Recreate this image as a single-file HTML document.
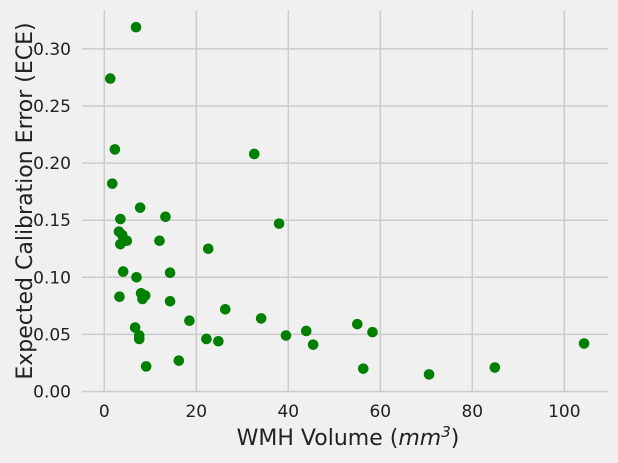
<!DOCTYPE html>
<html><head><meta charset="utf-8"><style>
body{margin:0;background:#f0f0f0}
svg text{font-family:"DejaVu Sans","Liberation Sans",sans-serif;fill:#222}
</style></head><body>
<svg id="chart" width="618" height="458">
<rect width="618" height="458" fill="#f0f0f0"/>
<g id="grid"></g>
<g id="ticks"></g>
<g id="pts"></g>
<text x="348" y="445" text-anchor="middle" font-size="22">WMH Volume (<tspan font-style="italic">mm</tspan><tspan font-size="15" dy="-8" font-style="italic">3</tspan><tspan dy="8">)</tspan></text>
<text transform="translate(32,201) rotate(-90)" text-anchor="middle" font-size="22">Expected Calibration Error (ECE)</text>
</svg>
<script>
const xVals=[1.74,7.8,3.5,13.3,38.0,3.2,3.9,4.9,3.5,12.0,22.6,4.1,7.0,14.3,3.3,8.0,8.9,8.3,14.3,26.3,34.1,18.5,6.7,7.6,7.6,22.2,24.8,39.5,16.2,9.1,6.9,1.3,2.3,32.6,43.9,45.4,55.0,56.3,58.3,70.6,84.9,104.3];
const yVals=[0.182,0.161,0.151,0.153,0.147,0.140,0.137,0.132,0.129,0.132,0.125,0.105,0.100,0.104,0.083,0.086,0.084,0.081,0.079,0.072,0.064,0.062,0.056,0.049,0.046,0.046,0.044,0.049,0.027,0.022,0.319,0.274,0.212,0.208,0.053,0.041,0.059,0.020,0.052,0.015,0.021,0.042];
const xTicks=[0,20,40,60,80,100];
const yTicks=[0.00,0.05,0.10,0.15,0.20,0.25,0.30];
const NS="http://www.w3.org/2000/svg";
const X=v=>104.3+v*4.6;
const Y=v=>391.5-v*1142;
const top_=10,bot=392,left=82,right=608;
const grid=document.getElementById('grid'),ticks=document.getElementById('ticks'),pts=document.getElementById('pts');
function mk(tag,at,parent){const e=document.createElementNS(NS,tag);for(const k in at)e.setAttribute(k,at[k]);parent.appendChild(e);return e;}
xTicks.forEach(t=>{
 const l=mk('line',{x1:X(t),x2:X(t),y1:top_,y2:bot,stroke:'#cbcbcb','stroke-width':1.5},grid);
 
 
 const tx=mk('text',{x:X(t),y:417,'text-anchor':'middle','font-size':17},ticks);
 tx.textContent=t;
 
 
});
yTicks.forEach(t=>{
 const l=mk('line',{x1:left,x2:right,y1:Y(t),y2:Y(t),stroke:'#cbcbcb','stroke-width':1.5},grid);
 
 
 const tx=mk('text',{x:71,y:Y(t)+6,'text-anchor':'end','font-size':17},ticks);
 tx.textContent=t.toFixed(2);
 
 
});
xVals.forEach((v,i)=>{
 const c=mk('circle',{cx:X(v),cy:Y(yVals[i]),r:5.3,fill:'#008000'},pts);
 
 
});
</script>
</body></html>
